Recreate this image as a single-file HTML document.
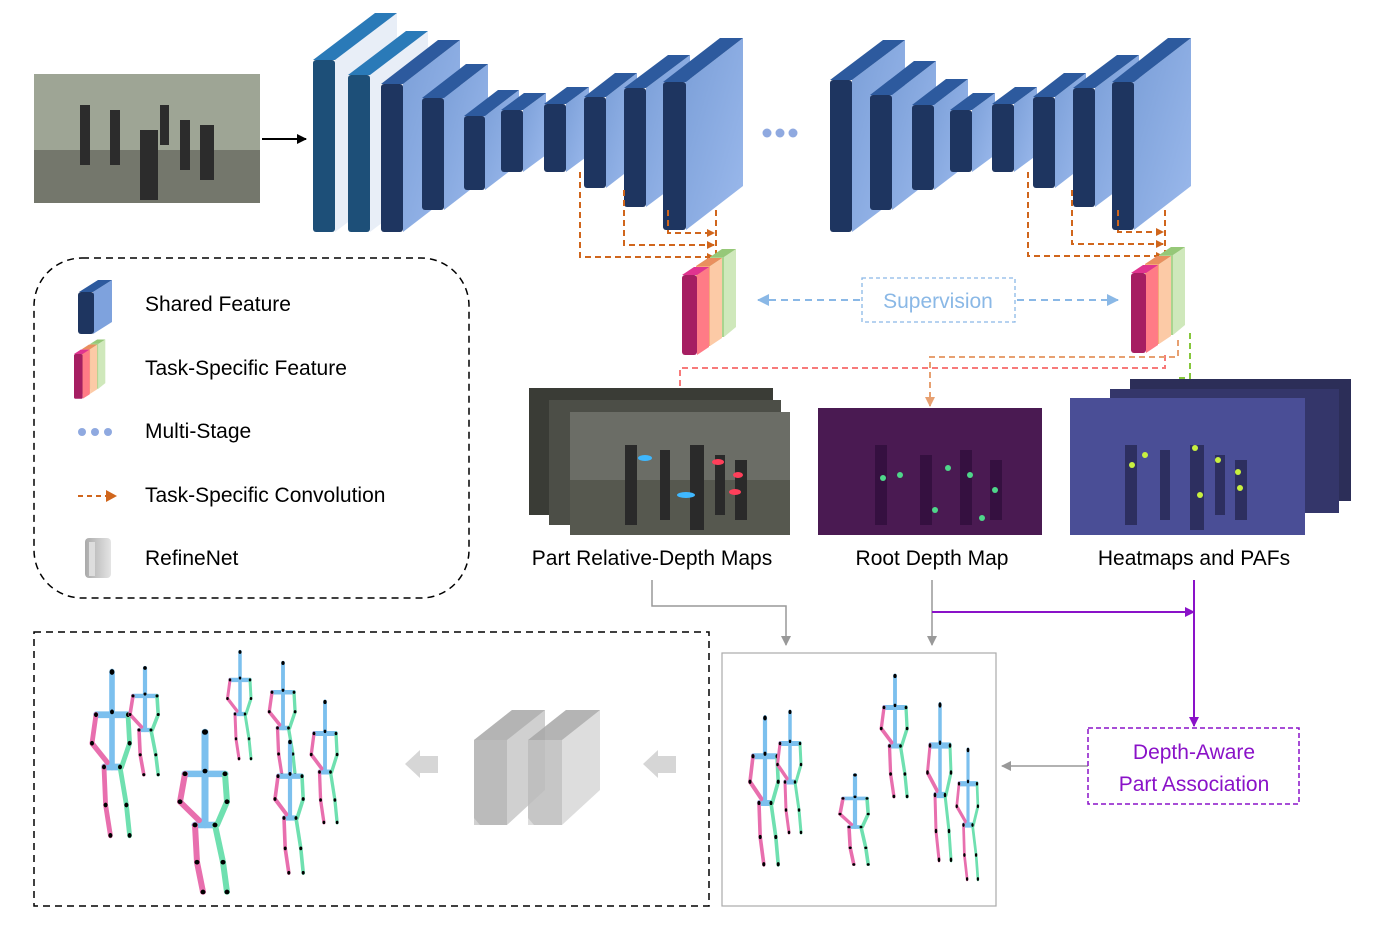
<!DOCTYPE html>
<html><head><meta charset="utf-8"><style>
html,body{margin:0;padding:0;background:#fff;}
svg{display:block;font-family:"Liberation Sans",sans-serif;}
</style></head><body>
<svg width="1378" height="932" viewBox="0 0 1378 932">
<defs>
<linearGradient id="side" x1="0" y1="0" x2="1" y2="1"><stop offset="0" stop-color="#7b9fd8"/><stop offset="1" stop-color="#9bb9ec"/></linearGradient>
<linearGradient id="gray" x1="0" y1="0" x2="1" y2="0"><stop offset="0" stop-color="#aaa"/><stop offset="1" stop-color="#e4e4e4"/></linearGradient>
<marker id="ao" markerWidth="8" markerHeight="8" refX="7" refY="4" orient="auto" markerUnits="userSpaceOnUse"><path d="M0,0L8,4L0,8z" fill="#d0661c"/></marker>
<marker id="ab" markerWidth="12" markerHeight="12" refX="11" refY="6" orient="auto" markerUnits="userSpaceOnUse"><path d="M0,0L12,6L0,12z" fill="#8ab8e6"/></marker>
<marker id="ap" markerWidth="10" markerHeight="10" refX="9" refY="5" orient="auto" markerUnits="userSpaceOnUse"><path d="M0,0L10,5L0,10z" fill="#f77a7a"/></marker>
<marker id="aor" markerWidth="10" markerHeight="10" refX="9" refY="5" orient="auto" markerUnits="userSpaceOnUse"><path d="M0,0L10,5L0,10z" fill="#e7a071"/></marker>
<marker id="ag" markerWidth="10" markerHeight="10" refX="9" refY="5" orient="auto" markerUnits="userSpaceOnUse"><path d="M0,0L10,5L0,10z" fill="#86c73c"/></marker>
<marker id="agr" markerWidth="10" markerHeight="10" refX="9" refY="5" orient="auto" markerUnits="userSpaceOnUse"><path d="M0,0L10,5L0,10z" fill="#999"/></marker>
<marker id="apu" markerWidth="10" markerHeight="10" refX="9" refY="5" orient="auto" markerUnits="userSpaceOnUse"><path d="M0,0L10,5L0,10z" fill="#8a12c8"/></marker>
<marker id="ak" markerWidth="10" markerHeight="10" refX="9" refY="5" orient="auto" markerUnits="userSpaceOnUse"><path d="M0,0L10,5L0,10z" fill="#000"/></marker>

<g id="fig" stroke-linecap="round" fill="none">
 <g stroke="#7cc0ee" stroke-width="7">
  <line x1="0" y1="0" x2="0" y2="42"/><line x1="0" y1="42" x2="0" y2="100"/>
  <line x1="-20" y1="45" x2="20" y2="45"/><line x1="-10" y1="100" x2="10" y2="100"/>
 </g>
 <g stroke="#e86fae" stroke-width="6">
  <line x1="-20" y1="45" x2="-25" y2="75"/><line x1="-25" y1="75" x2="-6" y2="95"/>
  <line x1="-10" y1="100" x2="-8" y2="140"/><line x1="-8" y1="140" x2="-2" y2="172"/>
 </g>
 <g stroke="#6fe0b0" stroke-width="6">
  <line x1="20" y1="45" x2="22" y2="75"/><line x1="22" y1="75" x2="12" y2="100"/>
  <line x1="10" y1="100" x2="18" y2="140"/><line x1="18" y1="140" x2="22" y2="172"/>
 </g>
 <g fill="#000"><circle r="3" cx="0" cy="0"/><circle r="2.5" cx="0" cy="42"/><circle r="2.5" cx="-20" cy="45"/><circle r="2.5" cx="20" cy="45"/><circle r="2.5" cx="-25" cy="75"/><circle r="2.5" cx="22" cy="75"/><circle r="2.5" cx="-10" cy="100"/><circle r="2.5" cx="10" cy="100"/><circle r="2.5" cx="-8" cy="140"/><circle r="2.5" cx="18" cy="140"/><circle r="2.5" cx="-2" cy="172"/><circle r="2.5" cx="22" cy="172"/></g>
</g>

<g id="task">
 <polygon points="28,-18 42,-18 42,62 28,62" fill="#a9d48e"/>
 <polygon points="42,-18 54,-26 54,52 42,62" fill="#cfe8bb"/>
 <polygon points="28,-18 42,-18 54,-26 40,-26" fill="#96c878"/>
 <polygon points="14,-9 28,-9 28,71 14,71" fill="#f5a878"/>
 <polygon points="28,-9 40,-17 40,63 28,71" fill="#fccaa6"/>
 <polygon points="14,-9 28,-9 40,-17 26,-17" fill="#e98f5f"/>
 <rect x="0" y="0" width="15" height="80" rx="3" fill="#a61e62"/>
 <polygon points="15,0 27,-8 27,72 15,80" fill="#ff7b86"/>
 <polygon points="0,0 15,0 27,-8 12,-8" fill="#e0348f"/>
</g>
</defs>

<!-- input photo -->
<rect x="34" y="74" width="226" height="129" fill="#9ea595"/>
<rect x="34" y="150" width="226" height="53" fill="#74776c"/>
<g fill="#2c2c2c"><rect x="80" y="105" width="10" height="60"/><rect x="110" y="110" width="10" height="55"/><rect x="140" y="130" width="18" height="70"/><rect x="160" y="105" width="9" height="40"/><rect x="180" y="120" width="10" height="50"/><rect x="200" y="125" width="14" height="55"/></g>
<line x1="262" y1="139" x2="306" y2="139" stroke="#000" stroke-width="2" marker-end="url(#ak)"/>

<g>
<polygon points="335,60 397,13 397,185 335,232" fill="#e8eef7"/><polygon points="313,60 335,60 397,13 375,13" fill="#2a7ab8"/><rect x="313" y="60" width="22" height="172" rx="3" fill="#1d4f78"/>
<polygon points="370,75 428,31 428,188 370,232" fill="#e8eef7"/><polygon points="348,75 370,75 428,31 406,31" fill="#2a7ab8"/><rect x="348" y="75" width="22" height="157" rx="3" fill="#1d4f78"/>
<polygon points="403,84 460,40 460,188 403,232" fill="url(#side)"/><polygon points="381,84 403,84 460,40 438,40" fill="#2d5a9e"/><rect x="381" y="84" width="22" height="148" rx="3" fill="#1e3560"/>
<polygon points="444,98 488,64 488,176 444,210" fill="url(#side)"/><polygon points="422,98 444,98 488,64 466,64" fill="#2d5a9e"/><rect x="422" y="98" width="22" height="112" rx="3" fill="#1e3560"/>
<polygon points="485,116 519,90 519,164 485,190" fill="url(#side)"/><polygon points="464,116 485,116 519,90 498,90" fill="#2d5a9e"/><rect x="464" y="116" width="21" height="74" rx="3" fill="#1e3560"/>
<polygon points="523,110 546,93 546,155 523,172" fill="url(#side)"/><polygon points="501,110 523,110 546,93 524,93" fill="#2d5a9e"/><rect x="501" y="110" width="22" height="62" rx="3" fill="#1e3560"/>
<polygon points="566,104 589,87 589,155 566,172" fill="url(#side)"/><polygon points="544,104 566,104 589,87 567,87" fill="#2d5a9e"/><rect x="544" y="104" width="22" height="68" rx="3" fill="#1e3560"/>
<polygon points="606,97 637,73 637,164 606,188" fill="url(#side)"/><polygon points="584,97 606,97 637,73 615,73" fill="#2d5a9e"/><rect x="584" y="97" width="22" height="91" rx="3" fill="#1e3560"/>
<polygon points="646,88 690,55 690,174 646,207" fill="url(#side)"/><polygon points="624,88 646,88 690,55 668,55" fill="#2d5a9e"/><rect x="624" y="88" width="22" height="119" rx="3" fill="#1e3560"/>
<polygon points="686,82 743,38 743,186 686,230" fill="url(#side)"/><polygon points="663,82 686,82 743,38 720,38" fill="#2d5a9e"/><rect x="663" y="82" width="23" height="148" rx="3" fill="#1e3560"/>
</g>
<g>
<polygon points="852,80 905,40 905,192 852,232" fill="url(#side)"/><polygon points="830,80 852,80 905,40 883,40" fill="#2d5a9e"/><rect x="830" y="80" width="22" height="152" rx="3" fill="#1e3560"/>
<polygon points="892,95 936,61 936,176 892,210" fill="url(#side)"/><polygon points="870,95 892,95 936,61 914,61" fill="#2d5a9e"/><rect x="870" y="95" width="22" height="115" rx="3" fill="#1e3560"/>
<polygon points="934,105 968,79 968,164 934,190" fill="url(#side)"/><polygon points="912,105 934,105 968,79 946,79" fill="#2d5a9e"/><rect x="912" y="105" width="22" height="85" rx="3" fill="#1e3560"/>
<polygon points="972,110 995,93 995,155 972,172" fill="url(#side)"/><polygon points="950,110 972,110 995,93 973,93" fill="#2d5a9e"/><rect x="950" y="110" width="22" height="62" rx="3" fill="#1e3560"/>
<polygon points="1014,104 1037,87 1037,155 1014,172" fill="url(#side)"/><polygon points="992,104 1014,104 1037,87 1015,87" fill="#2d5a9e"/><rect x="992" y="104" width="22" height="68" rx="3" fill="#1e3560"/>
<polygon points="1055,97 1086,73 1086,164 1055,188" fill="url(#side)"/><polygon points="1033,97 1055,97 1086,73 1064,73" fill="#2d5a9e"/><rect x="1033" y="97" width="22" height="91" rx="3" fill="#1e3560"/>
<polygon points="1095,88 1139,55 1139,174 1095,207" fill="url(#side)"/><polygon points="1073,88 1095,88 1139,55 1117,55" fill="#2d5a9e"/><rect x="1073" y="88" width="22" height="119" rx="3" fill="#1e3560"/>
<polygon points="1134,82 1191,38 1191,186 1134,230" fill="url(#side)"/><polygon points="1112,82 1134,82 1191,38 1168,38" fill="#2d5a9e"/><rect x="1112" y="82" width="22" height="148" rx="3" fill="#1e3560"/>
</g>
<g fill="#8fa9e0"><circle cx="767" cy="133" r="4.5"/><circle cx="780" cy="133" r="4.5"/><circle cx="793" cy="133" r="4.5"/></g>

<g fill="none" stroke="#d0661c" stroke-width="2" stroke-dasharray="6,4">
<polyline points="580,172 580,257 714,257" marker-end="url(#ao)"/>
<polyline points="624,190 624,245 714,245" marker-end="url(#ao)"/>
<polyline points="668,210 668,233 714,233" marker-end="url(#ao)"/>
<polyline points="716,210 716,270" marker-end="url(#ao)"/>
<polyline points="1028,172 1028,256 1163,256" marker-end="url(#ao)"/>
<polyline points="1072,190 1072,244 1163,244" marker-end="url(#ao)"/>
<polyline points="1118,210 1118,232 1163,232" marker-end="url(#ao)"/>
<polyline points="1165,210 1165,255"/>
</g>
<use href="#task" x="682" y="275"/>
<use href="#task" x="1131" y="273"/>

<rect x="862" y="278" width="153" height="44" fill="none" stroke="#8ab8e6" stroke-width="1.3" stroke-dasharray="4,3"/>
<text x="938" y="308" font-size="21" fill="#8ab8e6" text-anchor="middle">Supervision</text>
<g stroke="#8ab8e6" stroke-width="2" stroke-dasharray="7,5" fill="none">
<line x1="860" y1="300" x2="758" y2="300" marker-end="url(#ab)"/>
<line x1="1017" y1="300" x2="1118" y2="300" marker-end="url(#ab)"/>
</g>

<g fill="none" stroke-width="2" stroke-dasharray="6,4">
<polyline points="1165,355 1165,368 680,368 680,411" stroke="#f77a7a" marker-end="url(#ap)"/>
<polyline points="1178,340 1178,357 930,357 930,406" stroke="#e7a071" marker-end="url(#aor)"/>
<polyline points="1190,333 1190,378 1180,378 1180,409" stroke="#86c73c" marker-end="url(#ag)"/>
</g>

<rect x="529" y="388" width="244" height="127" fill="#3a3c36"/>
<rect x="549" y="400" width="232" height="125" fill="#4c4e47"/>
<rect x="570" y="412" width="220" height="123" fill="#6b6d66"/>
<rect x="570" y="480" width="220" height="55" fill="#56584f"/>
<g fill="#2a2a2a"><rect x="625" y="445" width="12" height="80"/><rect x="660" y="450" width="10" height="70"/><rect x="690" y="445" width="14" height="85"/><rect x="715" y="455" width="10" height="60"/><rect x="735" y="460" width="12" height="60"/></g>
<g fill="#3fb8ff"><ellipse cx="645" cy="458" rx="7" ry="3"/><ellipse cx="686" cy="495" rx="9" ry="3"/></g>
<g fill="#ff3f5a"><ellipse cx="718" cy="462" rx="6" ry="3"/><ellipse cx="738" cy="475" rx="5" ry="3"/><ellipse cx="735" cy="492" rx="6" ry="3"/></g>

<rect x="818" y="408" width="224" height="127" fill="#4a1a52"/>
<g fill="#351040"><rect x="875" y="445" width="12" height="80"/><rect x="920" y="455" width="12" height="70"/><rect x="960" y="450" width="12" height="75"/><rect x="990" y="460" width="12" height="60"/></g>
<g fill="#4fd68a"><circle cx="883" cy="478" r="3"/><circle cx="900" cy="475" r="3"/><circle cx="948" cy="468" r="3"/><circle cx="970" cy="475" r="3"/><circle cx="995" cy="490" r="3"/><circle cx="935" cy="510" r="3"/><circle cx="982" cy="518" r="3"/></g>

<rect x="1130" y="379" width="221" height="122" fill="#2c2e58"/>
<rect x="1110" y="389" width="229" height="124" fill="#34366a"/>
<rect x="1090" y="399" width="215" height="126" fill="#3b3e7c"/>
<rect x="1070" y="398" width="235" height="137" fill="#4a4e96"/>
<g fill="#2d2f60"><rect x="1125" y="445" width="12" height="80"/><rect x="1160" y="450" width="10" height="70"/><rect x="1190" y="445" width="14" height="85"/><rect x="1215" y="455" width="10" height="60"/><rect x="1235" y="460" width="12" height="60"/></g>
<g fill="#c8f040"><circle cx="1132" cy="465" r="3"/><circle cx="1145" cy="455" r="3"/><circle cx="1195" cy="448" r="3"/><circle cx="1218" cy="460" r="3"/><circle cx="1238" cy="472" r="3"/><circle cx="1240" cy="488" r="3"/><circle cx="1200" cy="495" r="3"/></g>

<g font-size="21" fill="#000" text-anchor="middle">
<text x="652" y="565">Part Relative-Depth  Maps</text>
<text x="932" y="565">Root Depth Map</text>
<text x="1194" y="565">Heatmaps  and PAFs</text>
</g>

<g fill="none" stroke="#999" stroke-width="1.5">
<polyline points="652,580 652,606 786,606 786,645" marker-end="url(#agr)"/>
<polyline points="932,580 932,645" marker-end="url(#agr)"/>
<line x1="1088" y1="766" x2="1002" y2="766" marker-end="url(#agr)"/>
</g>
<g fill="none" stroke="#8a12c8" stroke-width="2">
<line x1="932" y1="612" x2="1194" y2="612" marker-end="url(#apu)"/>
<line x1="1194" y1="580" x2="1194" y2="726" marker-end="url(#apu)"/>
</g>
<rect x="1088" y="728" width="211" height="76" fill="none" stroke="#8a12c8" stroke-width="1.5" stroke-dasharray="5,3"/>
<g font-size="21" fill="#8a12c8" text-anchor="middle"><text x="1194" y="759">Depth-Aware</text><text x="1194" y="791">Part Association</text></g>

<rect x="34" y="258" width="435" height="340" rx="48" fill="none" stroke="#000" stroke-width="1.5" stroke-dasharray="7,5"/>
<polygon points="93,292 112,280 112,322 93,334" fill="#7ea2dd"/><polygon points="79,292 93,292 112,280 98,280" fill="#2d5a9e"/><rect x="78" y="292" width="16" height="42" rx="3" fill="#1e3560"/>
<use href="#task" transform="translate(74,354) scale(0.58,0.56)"/>
<g fill="#8fa9e0"><circle cx="82" cy="432" r="4"/><circle cx="95" cy="432" r="4"/><circle cx="108" cy="432" r="4"/></g>
<line x1="78" y1="496" x2="108" y2="496" stroke="#d0661c" stroke-width="2" stroke-dasharray="5,4"/><path d="M106,490L117,496L106,502z" fill="#d0661c"/>
<rect x="85" y="538" width="26" height="40" rx="4" fill="url(#gray)"/><rect x="89" y="542" width="6" height="34" fill="#ddd"/>
<g font-size="21" fill="#000"><text x="145" y="311">Shared Feature</text><text x="145" y="375">Task-Specific  Feature</text><text x="145" y="438">Multi-Stage</text><text x="145" y="502">Task-Specific  Convolution</text><text x="145" y="565">RefineNet</text></g>

<rect x="34" y="632" width="675" height="274" fill="none" stroke="#000" stroke-width="1.5" stroke-dasharray="7,5"/>
<use href="#fig" transform="translate(205,732) scale(1,0.93)"/>
<use href="#fig" transform="translate(112,672) scale(0.8,0.95)"/>
<use href="#fig" transform="translate(145,668) scale(0.6,0.62)"/>
<use href="#fig" transform="translate(240,652) scale(0.5,0.62)"/>
<use href="#fig" transform="translate(283,663) scale(0.55,0.65)"/>
<use href="#fig" transform="translate(325,702) scale(0.55,0.7)"/>
<use href="#fig" transform="translate(290,742) scale(0.6,0.76)"/>
<polygon points="420,750 420,778 405,764" fill="#d6d6d6"/><rect x="418" y="756" width="20" height="17" fill="#d6d6d6"/>
<polygon points="658,750 658,778 643,764" fill="#d6d6d6"/><rect x="656" y="756" width="20" height="17" fill="#d6d6d6"/>
<g opacity="0.85">
<polygon points="474,740 512,710 545,710 545,790 507,825 474,825" fill="#c8c8c8"/>
<polygon points="474,740 507,740 507,825 480,825 474,818" fill="#b0b0b0"/>
<polygon points="474,740 512,710 545,710 507,740" fill="#a8a8a8"/>
</g>
<g opacity="0.85">
<polygon points="528,740 566,710 600,710 600,790 562,825 528,825" fill="#d8d8d8"/>
<polygon points="528,740 562,740 562,825 534,825 528,818" fill="#bdbdbd"/>
<polygon points="528,740 566,710 600,710 562,740" fill="#a8a8a8"/>
</g>

<rect x="722" y="653" width="274" height="253" fill="#fff" stroke="#aaa" stroke-width="1.2"/>
<use href="#fig" transform="translate(765,718) scale(0.6,0.85)"/>
<use href="#fig" transform="translate(790,712) scale(0.5,0.7)"/>
<use href="#fig" transform="translate(855,775) scale(0.6,0.52)"/>
<use href="#fig" transform="translate(895,676) scale(0.55,0.7)"/>
<use href="#fig" transform="translate(940,705) scale(0.5,0.9)"/>
<use href="#fig" transform="translate(968,750) scale(0.45,0.75)"/>
</svg>
</body></html>
